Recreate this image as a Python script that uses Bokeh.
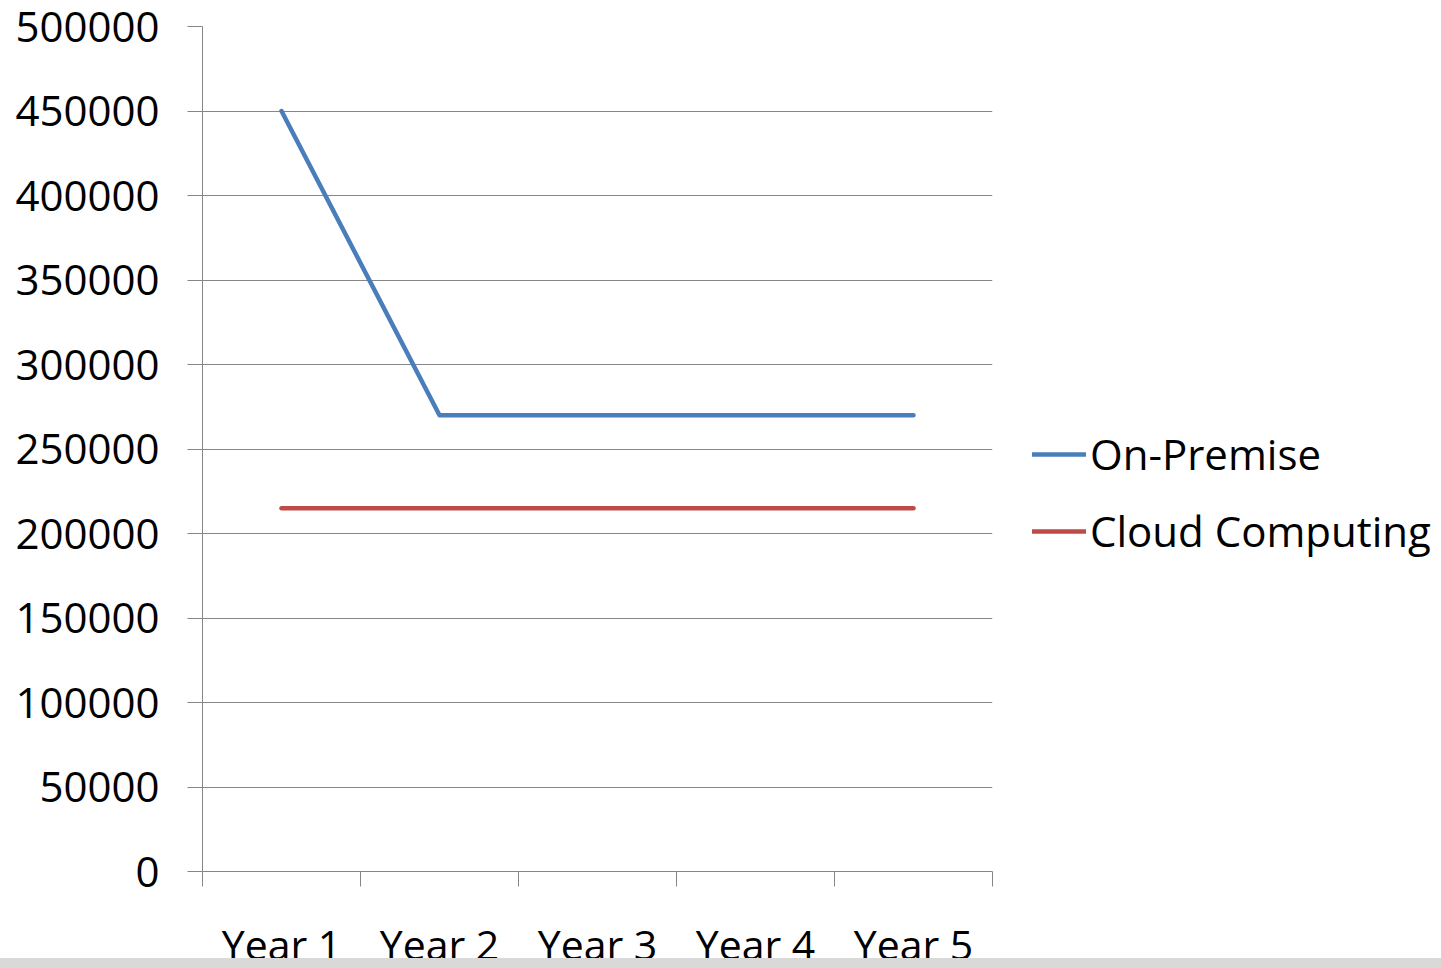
from bokeh.plotting import figure
from bokeh.models import Range1d, FixedTicker, Legend, LegendItem, ColumnDataSource
from bokeh.embed import file_html
from bokeh.resources import INLINE

# Five-year cost comparison
years = ["Year 1", "Year 2", "Year 3", "Year 4", "Year 5"]
on_premise = [450000, 270000, 270000, 270000, 270000]
cloud_computing = [215000, 215000, 215000, 215000, 215000]
y_ticks = [0, 50000, 100000, 150000, 200000, 250000, 300000, 350000, 400000, 450000, 500000]

FONT = "Open Sans"
GRID = "#868686"

# categories sit at the centres of unit-wide slots
x_pos = [i + 0.5 for i in range(len(years))]
slot_edges = list(range(len(years) + 1))

src = ColumnDataSource(dict(x=x_pos, onprem=on_premise, cloud=cloud_computing))

p = figure(frame_width=790, frame_height=845, output_backend="svg", toolbar_location=None,
           x_range=Range1d(0, len(years)), y_range=Range1d(0, 500000),
           min_border_left=202, min_border_right=0, min_border_top=26,
           min_border_bottom=97)
p.outline_line_color = None
p.background_fill_color = "white"
p.border_fill_color = "white"

blue = p.line("x", "onprem", source=src, line_color="#4a7ebb", line_width=4.5,
              line_cap="round", line_join="round")
red = p.line("x", "cloud", source=src, line_color="#be4b48", line_width=4.5,
             line_cap="round", line_join="round")

# y axis
p.yaxis.ticker = FixedTicker(ticks=y_ticks)
p.yaxis.axis_line_color = GRID
p.yaxis.major_tick_line_color = GRID
p.yaxis.major_tick_out = 15
p.yaxis.major_tick_in = 0
p.yaxis.minor_tick_line_color = None
p.yaxis.major_label_text_font = FONT
p.yaxis.major_label_text_font_size = "42px"
p.yaxis.major_label_text_color = "black"
p.yaxis.major_label_standoff = 28
p.yaxis.formatter.use_scientific = False

p.ygrid.ticker = FixedTicker(ticks=y_ticks)
p.ygrid.grid_line_color = GRID
p.ygrid.grid_line_width = 1
p.xgrid.grid_line_color = None

# x axis: labels at slot centres, tick marks at slot edges
p.xaxis.ticker = FixedTicker(ticks=x_pos, minor_ticks=slot_edges)
p.xaxis.major_label_overrides = {x: name for x, name in zip(x_pos, years)}
p.xaxis.axis_line_color = GRID
p.xaxis.major_tick_line_color = None
p.xaxis.major_tick_out = 0
p.xaxis.major_tick_in = 0
p.xaxis.minor_tick_line_color = GRID
p.xaxis.minor_tick_out = 15
p.xaxis.minor_tick_in = 0
p.xaxis.major_label_text_font = FONT
p.xaxis.major_label_text_font_size = "41px"
p.xaxis.major_label_text_color = "black"
p.xaxis.major_label_standoff = 29

legend = Legend(items=[LegendItem(label="On-Premise", renderers=[blue]),
                       LegendItem(label="Cloud Computing", renderers=[red])],
                location=(40, 312), orientation="vertical",
                label_text_font=FONT, label_text_font_size="42px",
                label_text_color="black", glyph_width=54, glyph_height=50,
                label_height=50, label_standoff=4, spacing=20, padding=0, margin=0,
                border_line_color=None, background_fill_alpha=0)
p.add_layout(legend, "right")

# page: no scrolling, thin grey strip along the bottom edge of the window
PAGE = """
{% block postamble %}
<style>
  html, body { overflow: hidden; background: white; }
  body::after {
    content: ""; position: fixed; left: 0; right: 0; bottom: 0;
    height: 10px; background: #d9d9d9; z-index: 1000;
  }
</style>
{% endblock %}
"""

open("out.html", "w").write(file_html(p, INLINE, template=PAGE))
